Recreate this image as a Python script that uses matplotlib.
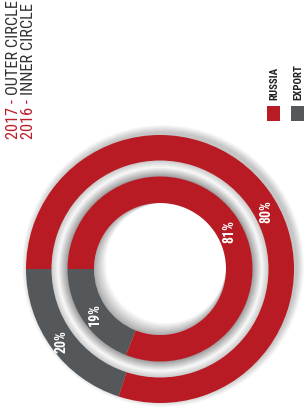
import numpy as np
from matplotlib import pyplot as plt
from matplotlib.patches import Wedge, Circle, Rectangle

# data (2017 outer ring, 2016 inner ring)
categories = ['RUSSIA', 'EXPORT']
outer_2017 = [80, 20]
inner_2016 = [81, 19]
outer_labels = ['80%', '20%']
inner_labels = ['81%', '19%']
colors = ['#b81b24', '#54585b']

NARROW = ['Roboto Condensed', 'Liberation Sans Narrow', 'Roboto', 'DejaVu Sans']

fig = plt.figure(figsize=(3.04, 4.14), dpi=100)
ax = fig.add_axes([0, 0, 1, 1])
cx, cy = 160, 144          # centre of the rings (pixels, y up)
R_OUT, W_OUT = 134, 25.5
R_IN, W_IN = 92.5, 26.5

# soft drop shadow outside the outer ring (upper right)
for k in range(10):
    t = k / 9
    ax.add_patch(Circle((cx + 3, cy + 3), R_OUT + 7 * (1 - t), color='#000000',
                        alpha=0.025, lw=0, zorder=1))

# gradient in the gap between the rings
gap_in, gap_out = R_IN, R_OUT - W_OUT
n = 24
for k in range(n):
    t = (k + 0.5) / n
    if t < 0.6:
        g = 0.60 + 0.38 * (t / 0.6)
    else:
        g = 0.98 - 0.18 * ((t - 0.6) / 0.4)
    r2 = gap_in + (k + 1) * (gap_out - gap_in) / n
    ax.add_patch(Wedge((cx, cy), r2 + 0.3, 0, 360, width=(gap_out - gap_in) / n + 0.6,
                       color=str(g), lw=0, zorder=2))

# inner shadow in the hole
hole_r = R_IN - W_IN
hole = Circle((cx, cy), hole_r, transform=ax.transData)
for k in range(16):
    t = k / 15
    g = 0.68 + 0.32 * t
    c = Circle((cx + 6 * t, cy + 6 * t), hole_r - 6 * t, color=str(g), lw=0, zorder=2)
    ax.add_patch(c)
    c.set_clip_path(hole)

# the two rings, export wedge first so it starts at 9 o'clock
ax.pie(outer_2017[::-1], colors=colors[::-1], radius=R_OUT, center=(cx, cy),
       startangle=180, counterclock=True, frame=True,
       wedgeprops=dict(width=W_OUT, linewidth=0, zorder=3))
ax.pie(inner_2016[::-1], colors=colors[::-1], radius=R_IN, center=(cx, cy),
       startangle=180, counterclock=True, frame=True,
       wedgeprops=dict(width=W_IN, linewidth=0, zorder=3))

# percentage labels
def put_labels(values, labels, radius, width, russia_angle):
    mid_export = 180 + 0.5 * values[1] * 3.6
    rm = radius - width / 2
    for lab, ang in zip(labels, [russia_angle, mid_export]):
        a = np.deg2rad(ang)
        ax.text(cx + rm * np.cos(a), cy + rm * np.sin(a), lab, color='white',
                fontsize=10, fontweight='bold', family=NARROW, fontstretch='condensed',
                rotation=90, ha='center', va='center', zorder=5)

put_labels(outer_2017, outer_labels, R_OUT, W_OUT, 29)
put_labels(inner_2016, inner_labels, R_IN, W_IN, 29)

# title lines, rotated
for x, year, rest in [(13, '2017 -', 'OUTER CIRCLE'), (28, '2016 -', 'INNER CIRCLE')]:
    t1 = ax.text(x, 414 - 139, year, color='#c01c28', fontsize=11.8, family=NARROW,
                 fontstretch='condensed', rotation=90, rotation_mode='anchor',
                 ha='left', va='center', zorder=5)
    ax.annotate(rest, xy=(0.5, 1), xycoords=t1, xytext=(0, 3),
                textcoords='offset points', color='#333333', fontsize=11.8,
                family=NARROW, fontstretch='condensed', rotation=90,
                rotation_mode='anchor', ha='left', va='center', zorder=5)

# legend
for i, (name, col) in enumerate(zip(categories, colors)):
    x0 = 267 + 24 * i
    ax.add_patch(Rectangle((x0, 414 - 122), 13, 15, color=col, lw=0, zorder=5))
    ax.text(x0 + 7, 414 - 100, name, color='#222222', fontsize=7.8,
            fontweight='bold', family=NARROW, fontstretch='condensed', rotation=90,
            rotation_mode='anchor', ha='left', va='center', zorder=5)

ax.set_xlim(0, 304)
ax.set_ylim(0, 414)
ax.axis('off')

fig.savefig('out.png', dpi=100)
